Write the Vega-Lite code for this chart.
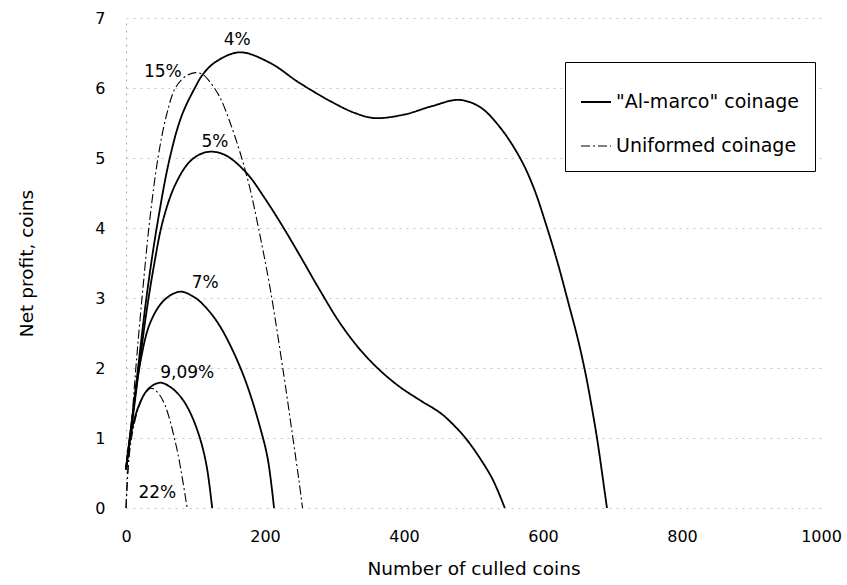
{
  "$schema": "https://vega.github.io/schema/vega-lite/v6.json",
  "width": 695,
  "height": 490,
  "autosize": "none",
  "padding": {"left": 126, "top": 18, "right": 26, "bottom": 77},
  "background": "white",
  "config": {
    "font": "DejaVu Sans",
    "view": {"stroke": null},
    "axis": {"labelFont": "DejaVu Sans", "titleFont": "DejaVu Sans", "labelColor": "black", "titleColor": "black", "titleFontWeight": "normal", "labelFontSize": 16, "titleFontSize": 18.5, "ticks": false, "labelFlush": false},
    "legend": {"labelFont": "DejaVu Sans", "labelFontSize": 19, "labelColor": "black", "strokeColor": "black", "fillColor": "white", "padding": 15, "rowPadding": 18, "symbolType": "stroke", "symbolStrokeColor": "black", "symbolSize": 900, "labelOffset": 4, "labelLimit": 400, "titleFontSize": 6, "titlePadding": 3}
  },
  "datasets": {
    "curves": [
      {"rate": "4%", "type": "\"Al-marco\" coinage", "x": 0, "y": 0.55},
      {"rate": "4%", "type": "\"Al-marco\" coinage", "x": 6, "y": 1.05},
      {"rate": "4%", "type": "\"Al-marco\" coinage", "x": 15, "y": 1.8},
      {"rate": "4%", "type": "\"Al-marco\" coinage", "x": 30, "y": 3.05},
      {"rate": "4%", "type": "\"Al-marco\" coinage", "x": 45, "y": 4.05},
      {"rate": "4%", "type": "\"Al-marco\" coinage", "x": 63, "y": 5.0},
      {"rate": "4%", "type": "\"Al-marco\" coinage", "x": 80, "y": 5.6},
      {"rate": "4%", "type": "\"Al-marco\" coinage", "x": 99, "y": 6.0},
      {"rate": "4%", "type": "\"Al-marco\" coinage", "x": 111, "y": 6.2},
      {"rate": "4%", "type": "\"Al-marco\" coinage", "x": 130, "y": 6.38},
      {"rate": "4%", "type": "\"Al-marco\" coinage", "x": 164, "y": 6.51},
      {"rate": "4%", "type": "\"Al-marco\" coinage", "x": 207, "y": 6.36},
      {"rate": "4%", "type": "\"Al-marco\" coinage", "x": 250, "y": 6.07},
      {"rate": "4%", "type": "\"Al-marco\" coinage", "x": 300, "y": 5.78},
      {"rate": "4%", "type": "\"Al-marco\" coinage", "x": 330, "y": 5.64},
      {"rate": "4%", "type": "\"Al-marco\" coinage", "x": 358, "y": 5.57},
      {"rate": "4%", "type": "\"Al-marco\" coinage", "x": 400, "y": 5.62},
      {"rate": "4%", "type": "\"Al-marco\" coinage", "x": 440, "y": 5.74},
      {"rate": "4%", "type": "\"Al-marco\" coinage", "x": 479, "y": 5.83},
      {"rate": "4%", "type": "\"Al-marco\" coinage", "x": 509, "y": 5.73},
      {"rate": "4%", "type": "\"Al-marco\" coinage", "x": 538, "y": 5.44},
      {"rate": "4%", "type": "\"Al-marco\" coinage", "x": 567, "y": 5.0},
      {"rate": "4%", "type": "\"Al-marco\" coinage", "x": 586, "y": 4.59},
      {"rate": "4%", "type": "\"Al-marco\" coinage", "x": 606, "y": 4.0},
      {"rate": "4%", "type": "\"Al-marco\" coinage", "x": 622, "y": 3.47},
      {"rate": "4%", "type": "\"Al-marco\" coinage", "x": 636, "y": 2.95},
      {"rate": "4%", "type": "\"Al-marco\" coinage", "x": 650, "y": 2.42},
      {"rate": "4%", "type": "\"Al-marco\" coinage", "x": 661, "y": 1.93},
      {"rate": "4%", "type": "\"Al-marco\" coinage", "x": 670, "y": 1.45},
      {"rate": "4%", "type": "\"Al-marco\" coinage", "x": 678, "y": 0.98},
      {"rate": "4%", "type": "\"Al-marco\" coinage", "x": 685, "y": 0.5},
      {"rate": "4%", "type": "\"Al-marco\" coinage", "x": 692, "y": 0},
      {"rate": "5%", "type": "\"Al-marco\" coinage", "x": 0, "y": 0.55},
      {"rate": "5%", "type": "\"Al-marco\" coinage", "x": 6, "y": 1.0},
      {"rate": "5%", "type": "\"Al-marco\" coinage", "x": 15, "y": 1.7},
      {"rate": "5%", "type": "\"Al-marco\" coinage", "x": 28, "y": 2.7},
      {"rate": "5%", "type": "\"Al-marco\" coinage", "x": 40, "y": 3.45},
      {"rate": "5%", "type": "\"Al-marco\" coinage", "x": 53, "y": 4.1},
      {"rate": "5%", "type": "\"Al-marco\" coinage", "x": 70, "y": 4.6},
      {"rate": "5%", "type": "\"Al-marco\" coinage", "x": 90, "y": 4.93},
      {"rate": "5%", "type": "\"Al-marco\" coinage", "x": 108, "y": 5.06},
      {"rate": "5%", "type": "\"Al-marco\" coinage", "x": 125, "y": 5.09},
      {"rate": "5%", "type": "\"Al-marco\" coinage", "x": 145, "y": 5.03},
      {"rate": "5%", "type": "\"Al-marco\" coinage", "x": 174, "y": 4.78},
      {"rate": "5%", "type": "\"Al-marco\" coinage", "x": 200, "y": 4.42},
      {"rate": "5%", "type": "\"Al-marco\" coinage", "x": 225, "y": 4.03},
      {"rate": "5%", "type": "\"Al-marco\" coinage", "x": 250, "y": 3.61},
      {"rate": "5%", "type": "\"Al-marco\" coinage", "x": 279, "y": 3.11},
      {"rate": "5%", "type": "\"Al-marco\" coinage", "x": 308, "y": 2.64},
      {"rate": "5%", "type": "\"Al-marco\" coinage", "x": 337, "y": 2.26},
      {"rate": "5%", "type": "\"Al-marco\" coinage", "x": 365, "y": 1.97},
      {"rate": "5%", "type": "\"Al-marco\" coinage", "x": 394, "y": 1.73},
      {"rate": "5%", "type": "\"Al-marco\" coinage", "x": 423, "y": 1.54},
      {"rate": "5%", "type": "\"Al-marco\" coinage", "x": 452, "y": 1.36},
      {"rate": "5%", "type": "\"Al-marco\" coinage", "x": 470, "y": 1.2},
      {"rate": "5%", "type": "\"Al-marco\" coinage", "x": 490, "y": 0.98},
      {"rate": "5%", "type": "\"Al-marco\" coinage", "x": 510, "y": 0.7},
      {"rate": "5%", "type": "\"Al-marco\" coinage", "x": 528, "y": 0.4},
      {"rate": "5%", "type": "\"Al-marco\" coinage", "x": 545, "y": 0},
      {"rate": "7%", "type": "\"Al-marco\" coinage", "x": 0, "y": 0.55},
      {"rate": "7%", "type": "\"Al-marco\" coinage", "x": 8, "y": 1.2},
      {"rate": "7%", "type": "\"Al-marco\" coinage", "x": 20, "y": 2.05},
      {"rate": "7%", "type": "\"Al-marco\" coinage", "x": 35, "y": 2.65},
      {"rate": "7%", "type": "\"Al-marco\" coinage", "x": 55, "y": 2.97},
      {"rate": "7%", "type": "\"Al-marco\" coinage", "x": 78, "y": 3.09},
      {"rate": "7%", "type": "\"Al-marco\" coinage", "x": 100, "y": 3.0},
      {"rate": "7%", "type": "\"Al-marco\" coinage", "x": 118, "y": 2.83},
      {"rate": "7%", "type": "\"Al-marco\" coinage", "x": 135, "y": 2.6},
      {"rate": "7%", "type": "\"Al-marco\" coinage", "x": 155, "y": 2.22},
      {"rate": "7%", "type": "\"Al-marco\" coinage", "x": 174, "y": 1.76},
      {"rate": "7%", "type": "\"Al-marco\" coinage", "x": 193, "y": 1.15},
      {"rate": "7%", "type": "\"Al-marco\" coinage", "x": 204, "y": 0.7},
      {"rate": "7%", "type": "\"Al-marco\" coinage", "x": 213, "y": 0},
      {"rate": "9,09%", "type": "\"Al-marco\" coinage", "x": 0, "y": 0.55},
      {"rate": "9,09%", "type": "\"Al-marco\" coinage", "x": 6, "y": 1.0},
      {"rate": "9,09%", "type": "\"Al-marco\" coinage", "x": 18, "y": 1.45},
      {"rate": "9,09%", "type": "\"Al-marco\" coinage", "x": 32, "y": 1.7},
      {"rate": "9,09%", "type": "\"Al-marco\" coinage", "x": 49, "y": 1.79},
      {"rate": "9,09%", "type": "\"Al-marco\" coinage", "x": 65, "y": 1.72},
      {"rate": "9,09%", "type": "\"Al-marco\" coinage", "x": 80, "y": 1.57},
      {"rate": "9,09%", "type": "\"Al-marco\" coinage", "x": 92, "y": 1.37},
      {"rate": "9,09%", "type": "\"Al-marco\" coinage", "x": 106, "y": 1.01},
      {"rate": "9,09%", "type": "\"Al-marco\" coinage", "x": 116, "y": 0.6},
      {"rate": "9,09%", "type": "\"Al-marco\" coinage", "x": 124, "y": 0},
      {"rate": "15%", "type": "Uniformed coinage", "x": 0, "y": 0},
      {"rate": "15%", "type": "Uniformed coinage", "x": 3, "y": 0.57},
      {"rate": "15%", "type": "Uniformed coinage", "x": 8, "y": 1.2},
      {"rate": "15%", "type": "Uniformed coinage", "x": 15, "y": 2.1},
      {"rate": "15%", "type": "Uniformed coinage", "x": 24, "y": 3.1},
      {"rate": "15%", "type": "Uniformed coinage", "x": 34, "y": 4.1},
      {"rate": "15%", "type": "Uniformed coinage", "x": 46, "y": 5.0},
      {"rate": "15%", "type": "Uniformed coinage", "x": 58, "y": 5.6},
      {"rate": "15%", "type": "Uniformed coinage", "x": 71, "y": 6.0},
      {"rate": "15%", "type": "Uniformed coinage", "x": 86, "y": 6.17},
      {"rate": "15%", "type": "Uniformed coinage", "x": 100, "y": 6.22},
      {"rate": "15%", "type": "Uniformed coinage", "x": 111, "y": 6.19},
      {"rate": "15%", "type": "Uniformed coinage", "x": 122, "y": 6.07},
      {"rate": "15%", "type": "Uniformed coinage", "x": 135, "y": 5.87},
      {"rate": "15%", "type": "Uniformed coinage", "x": 150, "y": 5.5},
      {"rate": "15%", "type": "Uniformed coinage", "x": 165, "y": 5.05},
      {"rate": "15%", "type": "Uniformed coinage", "x": 178, "y": 4.58},
      {"rate": "15%", "type": "Uniformed coinage", "x": 190, "y": 4.03},
      {"rate": "15%", "type": "Uniformed coinage", "x": 207, "y": 3.16},
      {"rate": "15%", "type": "Uniformed coinage", "x": 226, "y": 1.97},
      {"rate": "15%", "type": "Uniformed coinage", "x": 240, "y": 1.01},
      {"rate": "15%", "type": "Uniformed coinage", "x": 249, "y": 0.38},
      {"rate": "15%", "type": "Uniformed coinage", "x": 254, "y": 0},
      {"rate": "22%", "type": "Uniformed coinage", "x": 0, "y": 0},
      {"rate": "22%", "type": "Uniformed coinage", "x": 3, "y": 0.57},
      {"rate": "22%", "type": "Uniformed coinage", "x": 8, "y": 1.0},
      {"rate": "22%", "type": "Uniformed coinage", "x": 17, "y": 1.4},
      {"rate": "22%", "type": "Uniformed coinage", "x": 27, "y": 1.63},
      {"rate": "22%", "type": "Uniformed coinage", "x": 37, "y": 1.71},
      {"rate": "22%", "type": "Uniformed coinage", "x": 48, "y": 1.62},
      {"rate": "22%", "type": "Uniformed coinage", "x": 56, "y": 1.47},
      {"rate": "22%", "type": "Uniformed coinage", "x": 63, "y": 1.26},
      {"rate": "22%", "type": "Uniformed coinage", "x": 70, "y": 0.98},
      {"rate": "22%", "type": "Uniformed coinage", "x": 75, "y": 0.76},
      {"rate": "22%", "type": "Uniformed coinage", "x": 81, "y": 0.43},
      {"rate": "22%", "type": "Uniformed coinage", "x": 88, "y": 0}
    ],
    "labels": [
      {"label": "4%", "x": 160, "y": 6.69},
      {"label": "15%", "x": 53, "y": 6.23},
      {"label": "5%", "x": 128, "y": 5.23},
      {"label": "7%", "x": 114, "y": 3.21},
      {"label": "9,09%", "x": 88, "y": 1.93},
      {"label": "22%", "x": 45, "y": 0.21}
    ]
  },
  "layer": [
    {
      "data": {"name": "curves"},
      "mark": {"type": "line", "interpolate": "catmull-rom", "color": "black"},
      "encoding": {
        "x": {"field": "x", "type": "quantitative", "scale": {"domain": [0, 1000]}, "title": "Number of culled coins",
          "axis": {"values": [0, 200, 400, 600, 800, 1000], "format": "d", "domain": false, "grid": false, "labelPadding": 20, "titlePadding": 15}},
        "y": {"field": "y", "type": "quantitative", "scale": {"domain": [0, 7]}, "title": "Net profit, coins",
          "axis": {"values": [0, 1, 2, 3, 4, 5, 6, 7], "format": "d", "domain": true, "domainColor": "#aaaaaa", "domainDash": [2, 5], "domainWidth": 1, "grid": true, "gridColor": "#c4c4c4", "gridDash": [2, 5], "gridWidth": 1, "labelPadding": 21, "titlePadding": 58}},
        "detail": {"field": "rate", "type": "nominal"},
        "strokeDash": {"field": "type", "type": "nominal", "title": " ",
          "scale": {"domain": ["\"Al-marco\" coinage", "Uniformed coinage"], "range": [[1, 0], [9, 3, 2, 3]]},
          "legend": {"orient": "none", "legendX": 439, "legendY": 44}},
        "strokeWidth": {"field": "type", "type": "nominal", "title": " ",
          "scale": {"domain": ["\"Al-marco\" coinage", "Uniformed coinage"], "range": [1.8, 1.1]},
          "legend": {"orient": "none", "legendX": 439, "legendY": 44}}
      }
    },
    {
      "data": {"name": "labels"},
      "mark": {"type": "text", "fontSize": 17, "color": "black", "align": "center", "baseline": "middle", "font": "DejaVu Sans"},
      "encoding": {
        "x": {"field": "x", "type": "quantitative"},
        "y": {"field": "y", "type": "quantitative"},
        "text": {"field": "label", "type": "nominal"}
      }
    }
  ]
}
